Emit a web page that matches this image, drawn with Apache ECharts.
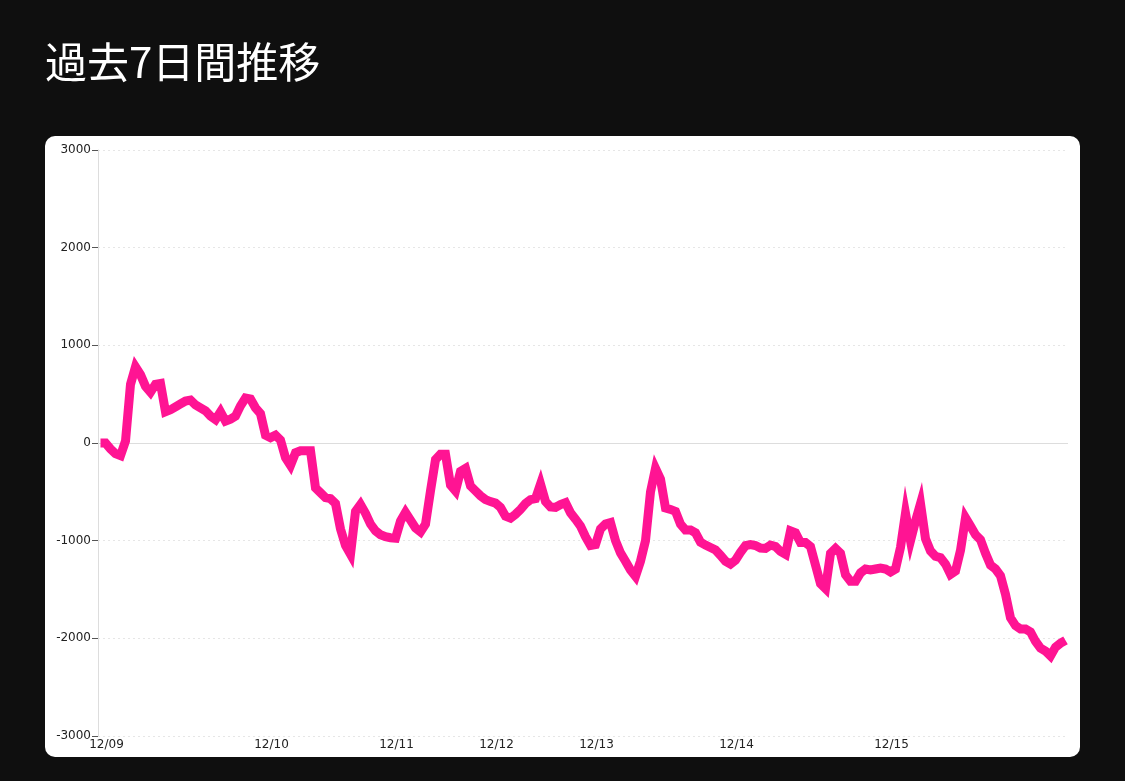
<!DOCTYPE html>
<html>
<head>
<meta charset="utf-8">
<script src="https://cdn.jsdelivr.net/npm/echarts@6/dist/echarts.min.js"></script>
<style>
html,body{margin:0;padding:0;background:#0f0f0f;}
#chart{width:1125px;height:781px;}
</style>
</head>
<body>
<div id="chart"></div>
<script>
var titleText = '過去7日間推移';
var dayLabels = ['12/09','12/10','12/11','12/12','12/13','12/14','12/15'];
var dayStartIndex = [0, 33, 58, 78, 98, 126, 157];
var yTicks = [-3000, -2000, -1000, 0, 1000, 2000, 3000];
var values = [
  0, 0, -60, -110, -130, 20, 600, 780, 700, 580,
  520, 600, 610, 320, 340, 370, 400, 430, 440, 390,
  360, 330, 275, 240, 320, 225, 245, 275, 380, 460,
  450, 360, 300, 80, 55, 80, 30, -150, -230, -100,
  -80, -80, -80, -460, -510, -560, -570, -620, -880, -1050,
  -1140, -700, -630, -720, -830, -900, -940, -960, -970, -975,
  -800, -710, -790, -870, -910, -830, -490, -170, -115, -115,
  -430, -490, -290, -260, -440, -490, -540, -580, -600, -615,
  -660, -750, -770, -730, -680, -620, -580, -570, -420, -600,
  -655, -660, -630, -610, -715, -780, -850, -960, -1050, -1040,
  -880, -830, -815, -1000, -1125, -1210, -1300, -1365, -1210, -1000,
  -500, -260, -370, -665, -680, -700, -830, -890, -890, -920,
  -1015, -1045, -1070, -1095, -1150, -1210, -1240, -1200, -1120, -1050,
  -1040, -1050, -1075, -1080, -1045, -1060, -1110, -1140, -900, -920,
  -1020, -1020, -1060, -1250, -1440, -1490, -1130, -1080, -1130, -1350,
  -1415, -1415, -1330, -1290, -1300, -1290, -1280, -1290, -1320, -1290,
  -1070, -720, -1000, -800, -620, -980, -1105, -1160, -1175, -1240,
  -1345, -1310, -1100, -765, -850, -940, -990, -1130, -1250, -1290,
  -1360, -1550, -1790, -1870, -1905, -1905, -1935, -2030, -2100, -2130,
  -2180, -2090, -2050, -2020
];

// build per-point category labels (day of each point)
var categories = values.map(function (v, i) {
  var d = 0;
  for (var k = 0; k < dayStartIndex.length; k++) { if (i >= dayStartIndex[k]) d = k; }
  return dayLabels[d];
});

var chart = echarts.init(document.getElementById('chart'), null, {renderer: 'canvas'});
chart.setOption({
  backgroundColor: '#0f0f0f',
  animation: false,
  title: {
    text: titleText,
    left: 45,
    top: 41,
    padding: 0,
    textStyle: {color: '#ffffff', fontSize: 42, fontWeight: 'normal', fontFamily: '"Noto Sans CJK JP", "Noto Sans", sans-serif'}
  },
  graphic: [{
    type: 'rect',
    z: -10,
    silent: true,
    shape: {x: 45, y: 136, width: 1035, height: 621, r: 10},
    style: {fill: '#ffffff'}
  }],
  grid: {left: 98, right: 57, top: 150, bottom: 45, containLabel: false},
  xAxis: {
    type: 'category',
    data: categories,
    boundaryGap: true,
    axisLine: {show: false},
    axisTick: {show: false},
    splitLine: {show: false},
    axisLabel: {
      interval: function (index) { return dayStartIndex.indexOf(index) >= 0; },
      color: '#222',
      fontSize: 12,
      fontFamily: '"DejaVu Sans", Verdana, sans-serif',
      margin: 3,
      padding: [0, 0, 0, 12]
    }
  },
  yAxis: {
    type: 'value',
    min: yTicks[0],
    max: yTicks[yTicks.length - 1],
    interval: 1000,
    axisLine: {show: true, lineStyle: {color: '#dddddd', width: 1}},
    axisTick: {show: true, length: 6, lineStyle: {color: '#555', width: 1}},
    axisLabel: {
      color: '#222', fontSize: 12, fontFamily: '"DejaVu Sans", Verdana, sans-serif', margin: 7,
      formatter: function (v) { return String(v); }
    },
    splitLine: {show: true, lineStyle: {color: '#e6e6e6', type: [2, 3], width: 1}}
  },
  series: [{
    type: 'line',
    data: values,
    showSymbol: false,
    symbol: 'none',
    smooth: false,
    lineStyle: {color: '#ff1493', width: 9, join: 'miter', cap: 'butt'},
    itemStyle: {color: '#ff1493'},
    markLine: {
      silent: true,
      symbol: 'none',
      label: {show: false},
      lineStyle: {color: '#dddddd', type: 'solid', width: 1},
      data: [{yAxis: 0}],
      z: 1
    },
    z: 3
  }]
});
</script>
</body>
</html>
